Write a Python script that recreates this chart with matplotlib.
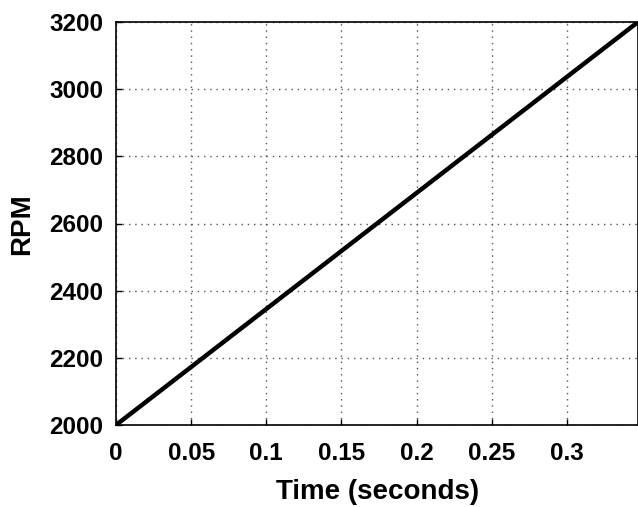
import numpy as np
import matplotlib
matplotlib.use("Agg")
import matplotlib.pyplot as plt

# speed ramp: linear rise from 2000 to 3200 RPM
time_s = [0.0, 0.3473]
rpm = [2000, 3200]
x_ticks = [0, 0.05, 0.1, 0.15, 0.2, 0.25, 0.3]
x_labels = ["0", "0.05", "0.1", "0.15", "0.2", "0.25", "0.3"]
y_ticks = [2000, 2200, 2400, 2600, 2800, 3000, 3200]

plt.rcParams["font.family"] = ["Liberation Sans", "DejaVu Sans"]
plt.rcParams["font.weight"] = "bold"

fig = plt.figure(figsize=(6.38, 5.07), dpi=100)
ax = fig.add_axes([116 / 638, 1 - 425 / 507, 522 / 638, 403 / 507])

ax.plot(time_s, rpm, color="black", linewidth=3.2, solid_capstyle="round")

ax.set_xlim(0, 0.3473)
ax.set_ylim(2000, 3200)
ax.set_xticks(x_ticks)
ax.set_xticklabels(x_labels)
ax.set_yticks(y_ticks)
ax.tick_params(direction="in", length=4, width=1, labelsize=17.5)
ax.tick_params(axis="x", pad=12)
ax.tick_params(axis="y", pad=9)
for lbl in ax.get_xticklabels() + ax.get_yticklabels():
    lbl.set_fontweight("bold")
ax.grid(True, linestyle=(0, (1, 3.5)), color="#555555", linewidth=1)
for s in ax.spines.values():
    s.set_linewidth(1.2)

ax.set_xlabel("Time (seconds)", fontsize=20, fontweight="bold")
ax.set_ylabel("RPM", fontsize=20, fontweight="bold")
ax.xaxis.label.set_verticalalignment("center")
ax.xaxis.set_label_coords(0.501, -0.166)
ax.yaxis.label.set_verticalalignment("center")
ax.yaxis.set_label_coords(-0.18, 0.4988)

fig.savefig("out.png", dpi=100)
